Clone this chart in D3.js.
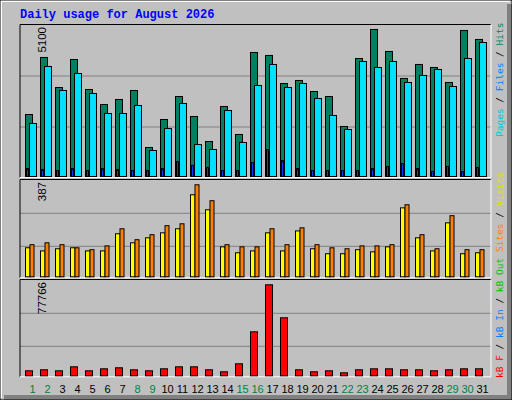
<!DOCTYPE html>
<html><head><meta charset="utf-8">
<script src="https://cdn.jsdelivr.net/npm/d3@7"></script>
<style>body{margin:0;background:#fff}</style></head>
<body><script>
const days = d3.range(1,32).map(String);
const weekend = ["1","2","8","9","15","16","22","23","29","30"];
const hits  = [2094,4020,3006,3952,2939,2432,2601,2905,980,1925,2702,2027,1182,2365,1419,4189,4088,3141,3243,2871,2702,1689,3986,4966,4223,3311,3784,3682,3176,4932,4628];
const files = [1790,3716,2905,3479,2804,2128,2128,2398,878,1621,2466,1081,912,2229,1149,3074,3784,3006,3141,2635,2061,1588,3885,3682,3885,3176,3412,3615,3040,3986,4527];
const pages = [270,236,203,270,203,270,236,203,203,270,507,372,304,203,203,473,912,540,270,203,203,203,203,270,338,439,270,169,338,169,304];
const visits= [122,109,118,122,109,109,181,143,164,185,202,345,282,126,101,109,185,109,193,118,97,97,114,105,126,290,164,109,227,97,101];
const sites = [135,143,135,122,114,130,202,156,177,215,223,387,320,135,126,126,202,135,206,135,122,118,130,130,135,303,177,118,257,114,114];
const kbF   = [4270,5130,4270,7690,4270,5980,6840,5130,4270,5980,7690,7690,5130,3420,10260,37600,77766,49570,5130,3420,4270,2560,5130,5980,5980,5130,5130,4270,5130,5980,5980];
const maxLabels = ["5100","387","77766"];

const W=512,H=400;
const svg=d3.select("body").append("svg").attr("width",W).attr("height",H);
svg.append("rect").attr("width",W).attr("height",H).attr("fill","#c0c0c0");
svg.append("path").attr("d","M1,398V1H510").attr("stroke","#fff").attr("stroke-width",2).attr("fill","none");
svg.append("rect").attr("x",507).attr("y",4).attr("width",5).attr("height",396).attr("fill","#808080");
svg.append("rect").attr("x",4).attr("y",395).attr("width",508).attr("height",5).attr("fill","#808080");
svg.append("path").attr("d","M0,0H512V400H0Z").attr("stroke","#000").attr("fill","none");

svg.append("text").attr("x",20).attr("y",18).text("Daily usage for August 2026")
 .attr("font-family","Liberation Mono").attr("font-weight","bold").attr("font-size",12).attr("fill","#0000ff");

const x=d3.scaleBand().domain(days).range([20,485]).paddingInner(0);
const L=20,R=491;
const panels=[{top:25,bot:176,grid:[76,127]},{top:180,bot:276.3,grid:[213.3,246.3]},{top:280,bot:375.3,grid:[313.3,346.3]}];
panels.forEach((p,i)=>{
  svg.append("rect").attr("x",L).attr("y",p.top).attr("width",R-L).attr("height",p.bot+1-p.top).attr("fill","#c0c0c0");
  p.grid.forEach(g=>svg.append("line").attr("x1",L).attr("x2",R).attr("y1",g).attr("y2",g).attr("stroke","#808080"));
  svg.append("path").attr("d",`M${L},${p.bot+1.5}V${p.top-0.5}H${R}`).attr("stroke","#000").attr("fill","none");
  svg.append("path").attr("d",`M${R},${p.top-0.5}V${p.bot+1.5}H${L}`).attr("stroke","#fff").attr("fill","none");
  svg.append("text").attr("transform",`translate(46,${p.top+2}) rotate(-90)`).attr("text-anchor","end")
    .attr("font-family","Liberation Sans").attr("font-size",11.5).text(maxLabels[i]);
});
const y1=d3.scaleLinear().domain([0,5100]).range([176,25]);
const y2=d3.scaleLinear().domain([0,387]).range([276.3,184.3]);
const y3=d3.scaleLinear().domain([0,77766]).range([375.3,284.3]);
function bars(data,y,off,w,color){
  svg.append("g").selectAll("rect").data(data).join("rect")
   .attr("x",(d,i)=>x(days[i])+off+0.5).attr("y",d=>y(d)+0.5).attr("width",w-1)
   .attr("height",d=>y(0)-y(d)).attr("fill",color).attr("stroke","#000");
}
bars(hits,y1,5,8,"#008060");
bars(files,y1,9,8,"#00e0ff");
bars(pages,y1,6,3,"#0040ff");
bars(visits,y2,5,5.5,"#ffff00");
bars(sites,y2,9.5,5,"#ff8000");
bars(kbF,y3,5,8,"#ff0000");

svg.append("g").selectAll("text").data(days).join("text")
 .attr("x",d=>x(d)+x.bandwidth()/2+5).attr("y",393).attr("text-anchor","middle")
 .attr("font-family","Liberation Sans").attr("font-size",11)
 .attr("fill",d=>weekend.includes(d)?"#008040":"#000").text(d=>d);

function vlabel(yb,parts){
  const t=svg.append("text").attr("transform",`translate(503,${yb}) rotate(-90)`)
   .attr("font-family","DejaVu Sans Mono").attr("font-size",9.5);
  parts.forEach(([s,c])=>t.append("tspan").attr("fill",c).text(s));
}
vlabel(137,[["Pages","#00c0e0"],[" / ","#000"],["Files","#0080ff"],[" / ","#000"],["Hits","#008060"]]);
vlabel(378,[["kB F","#ff0000"],[" / ","#000"],["kB In","#0080ff"],[" / ","#000"],["kB Out","#00c000"],[" Sites","#ff8000"],[" / ","#000"],["Visits","#e0e000"]]);
</script></body></html>
